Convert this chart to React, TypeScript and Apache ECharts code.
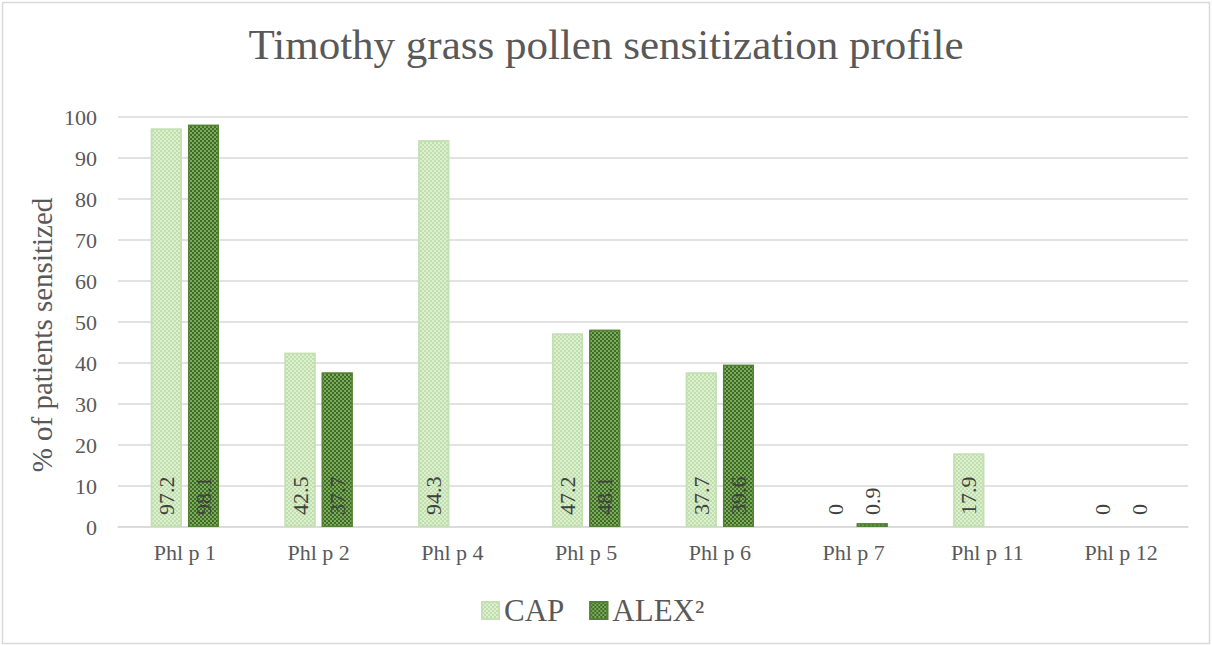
import React, { useEffect, useRef } from "react";
import * as echarts from "echarts";

const categories = ["Phl p 1", "Phl p 2", "Phl p 4", "Phl p 5", "Phl p 6", "Phl p 7", "Phl p 11", "Phl p 12"];
const capValues: (number | null)[] = [97.2, 42.5, 94.3, 47.2, 37.7, 0, 17.9, 0];
const alexValues: (number | null)[] = [98.1, 37.7, null, 48.1, 39.6, 0.9, null, 0];
const yTicks = [0, 10, 20, 30, 40, 50, 60, 70, 80, 90, 100];

const FONT = "Liberation Serif";

function toData(vals: (number | null)[]) {
  return vals.map((v) => (v === 0 ? { value: v, itemStyle: { borderWidth: 0, opacity: 0 } } : v));
}

export default function App() {
  const ref = useRef<HTMLDivElement>(null);
  useEffect(() => {
    document.body.style.margin = "0";
    const chart = echarts.init(ref.current!, null, { renderer: "svg" });
    const label = {
      show: true,
      position: "insideBottom",
      fontFamily: FONT,
      fontSize: 22,
      color: "#404040",
      opacity: 1,
      formatter: (p: any) => (p.value == null ? "" : String(p.value)),
    };
    const labelLayout = (p: any) => ({
      x: p.rect.x + p.rect.width / 2,
      y: p.rect.y + p.rect.height - 12,
      rotate: 90,
      align: "left",
      verticalAlign: "middle",
    });
    chart.setOption({
      animation: false,
      backgroundColor: "#ffffff",
      title: {
        text: "Timothy grass pollen sensitization profile",
        left: "center",
        top: 18,
        textStyle: { fontFamily: FONT, fontSize: 43, fontWeight: "normal", color: "#595959" },
      },
      graphic: [
        {
          type: "rect",
          shape: { x: 2.5, y: 2.5, width: 1207, height: 641 },
          style: { fill: "none", stroke: "#d9d9d9", lineWidth: 1.5 },
          silent: true,
        },
        {
          type: "text",
          x: 42,
          y: 335,
          rotation: Math.PI / 2,
          style: {
            text: "% of patients sensitized",
            fontFamily: FONT,
            fontSize: 29,
            fill: "#595959",
            align: "center",
            verticalAlign: "middle",
          },
          silent: true,
        },
      ],
      legend: {
        top: 590,
        left: 476,
        icon: "rect",
        itemWidth: 17,
        itemHeight: 17,
        itemGap: 25,
        textStyle: { fontFamily: FONT, fontSize: 31, color: "#595959" },
        data: ["CAP", "ALEX²"],
      },
      grid: { left: 118, right: 24, top: 117, bottom: 119 },
      xAxis: {
        type: "category",
        data: categories,
        axisLine: { lineStyle: { color: "#d9d9d9", width: 1.5 } },
        axisTick: { show: false },
        axisLabel: { fontFamily: FONT, fontSize: 22, color: "#595959", margin: 14 },
      },
      yAxis: {
        type: "value",
        min: yTicks[0],
        max: yTicks[yTicks.length - 1],
        interval: 10,
        axisLine: { show: false },
        axisTick: { show: false },
        axisLabel: { fontFamily: FONT, fontSize: 22, color: "#595959", margin: 21 },
        splitLine: { lineStyle: { color: "#d9d9d9", width: 1.5 } },
      },
      series: [
        {
          name: "CAP",
          type: "bar",
          data: toData(capValues),
          barWidth: 31,
          barGap: "20%",
          itemStyle: {
            color: "#dcefcf",
            borderColor: "#c5e0b4",
            borderWidth: 1.5,
            decal: {
              symbol: "rect",
              symbolSize: 1,
              color: "rgba(190,222,170,0.9)",
              dashArrayX: [[2, 2], [0, 2, 2, 0]],
              dashArrayY: [2, 0],
              rotation: 0,
            },
          },
          label,
          labelLayout,
        },
        {
          name: "ALEX²",
          type: "bar",
          data: toData(alexValues),
          barWidth: 31,
          itemStyle: {
            color: "#3f6b27",
            borderColor: "#548235",
            borderWidth: 1.5,
            decal: {
              symbol: "rect",
              symbolSize: 1,
              color: "rgba(130,180,100,0.9)",
              dashArrayX: [[2, 2], [0, 2, 2, 0]],
              dashArrayY: [2, 0],
              rotation: 0,
            },
          },
          label,
          labelLayout,
        },
      ],
    });
    return () => chart.dispose();
  }, []);
  return <div ref={ref} style={{ width: 1212, height: 646 }} />;
}
